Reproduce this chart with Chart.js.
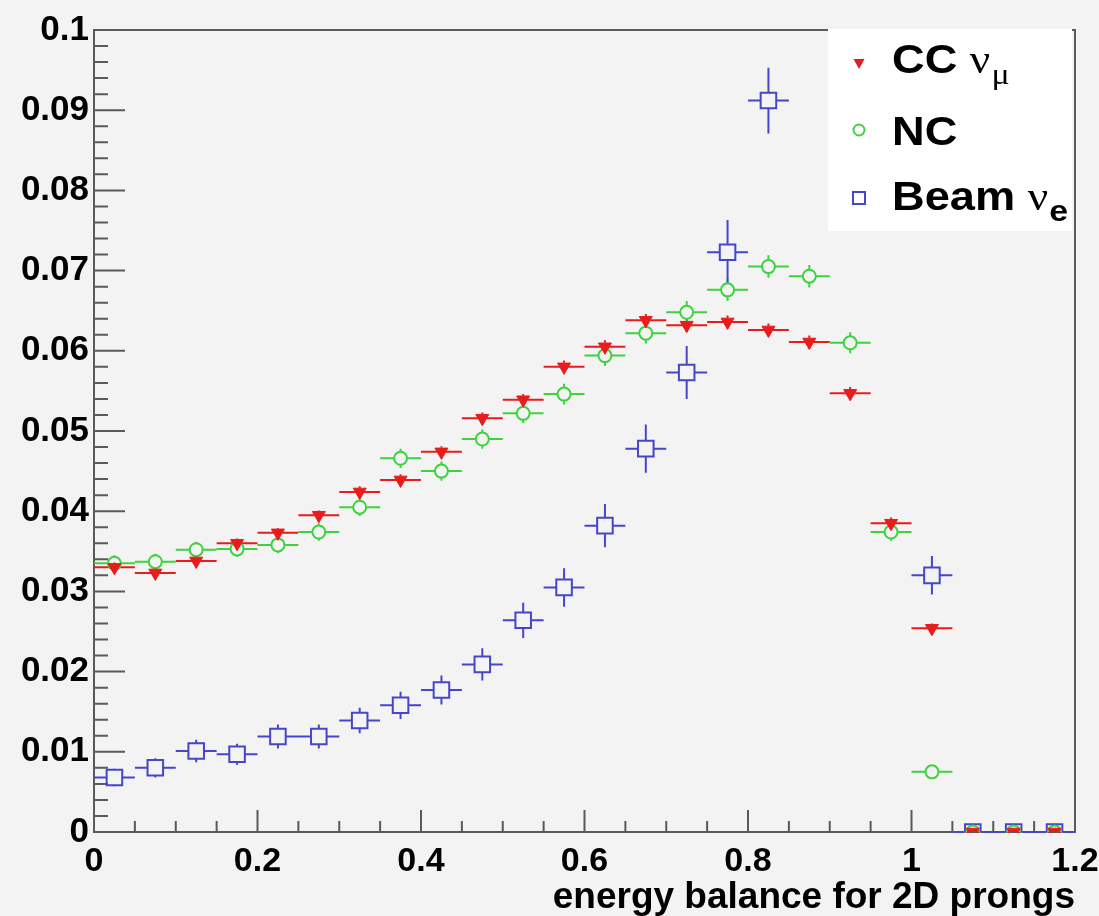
<!DOCTYPE html>
<html><head><meta charset="utf-8">
<script src="https://cdn.jsdelivr.net/npm/chart.js@4.4.0/dist/chart.umd.min.js"></script>
<style>html,body{margin:0;padding:0;background:#f3f3f3;overflow:hidden;}</style>
</head><body>
<canvas id="c" width="1099" height="916"></canvas>
<script>
// ---- data ----
const binCenters = [0.025,0.075,0.125,0.175,0.225,0.275,0.325,0.375,0.425,0.475,0.525,0.575,0.625,0.675,0.725,0.775,0.825,0.875,0.925,0.975,1.025,1.075,1.125,1.175];
const binHalfWidth = 0.025;
const ccNumu = [0.0330,0.0323,0.0338,0.0360,0.0373,0.0395,0.0424,0.0439,0.0474,0.0516,0.0539,0.0580,0.0605,0.0638,0.0632,0.0636,0.0626,0.0611,0.0547,0.0385,0.0254,0,0,0];
const ccErr  = [0.0006,0.0006,0.0006,0.0006,0.0006,0.0006,0.0007,0.0007,0.0007,0.0007,0.0007,0.0008,0.0008,0.0008,0.0008,0.0008,0.0008,0.0008,0.0008,0.0007,0.0006,0,0,0];
const ncVals = [0.0335,0.0337,0.0352,0.0353,0.0358,0.0374,0.0405,0.0466,0.0450,0.0490,0.0522,0.0546,0.0594,0.0622,0.0648,0.0676,0.0705,0.0693,0.0610,0.0374,0.0075,0,0,0];
const ncErr  = [0.0010,0.0010,0.0010,0.0010,0.0010,0.0011,0.0011,0.0012,0.0012,0.0012,0.0012,0.0013,0.0013,0.0013,0.0014,0.0014,0.0014,0.0014,0.0013,0.0011,0.0006,0,0,0];
const beamNue = [0.0068,0.0080,0.0101,0.0097,0.0119,0.0119,0.0139,0.0158,0.0177,0.0209,0.0264,0.0305,0.0382,0.0478,0.0573,0.0723,0.0912,null,null,null,0.0320,0,0,0];
const beamErr = [0.0011,0.0012,0.0014,0.0013,0.0015,0.0015,0.0016,0.0017,0.0018,0.0020,0.0022,0.0024,0.0027,0.0030,0.0033,0.0040,0.0041,null,null,null,0.0024,0,0,0];
const xTickValues = [0,0.2,0.4,0.6,0.8,1.0,1.2];
const xTickLabels = ['0','0.2','0.4','0.6','0.8','1','1.2'];
const yTickValues = [0,0.01,0.02,0.03,0.04,0.05,0.06,0.07,0.08,0.09,0.1];
const yTickLabels = ['0','0.01','0.02','0.03','0.04','0.05','0.06','0.07','0.08','0.09','0.1'];
const xTitle = 'energy balance for 2D prongs';
const legendEntries = [
  {main:'CC ', greek:'\u03BD', sub:'\u03BC', subGreek:true},
  {main:'NC', greek:'', sub:'', subGreek:false},
  {main:'Beam ', greek:'\u03BD', sub:'e', subGreek:false}
];

const RED='#e81c1c', GREEN='#3fd23f', BLUE='#4646c8', BG='#f3f3f3';
const SANS="'Liberation Sans', Arial, Helvetica, sans-serif";
const SERIF="'Liberation Serif', 'DejaVu Serif', serif";

function pts(vals){ return binCenters.map((x,i)=> vals[i]===null ? null : {x:x, y:vals[i]}).filter(p=>p); }
function errs(vals, e){ return binCenters.map((x,i)=> vals[i]===null ? null : e[i]).filter(v=>v!==null); }

const datasets = [
  {label:'CC', data:pts(ccNumu), errs:errs(ccNumu,ccErr), gap:4, pointStyle:'triangle', rotation:180, pointRadius:7.5, pointBackgroundColor:RED, pointBorderColor:RED, pointBorderWidth:1, color:RED, showLine:false, order:0},
  {label:'NC', data:pts(ncVals), errs:errs(ncVals,ncErr), gap:6.5, pointStyle:'circle', pointRadius:6.5, pointBackgroundColor:'rgba(0,0,0,0)', pointBorderColor:GREEN, pointBorderWidth:2, color:GREEN, showLine:false, order:1},
  {label:'Beam', data:pts(beamNue), errs:errs(beamNue,beamErr), gap:8, pointStyle:'rect', pointRadius:11, pointBackgroundColor:'rgba(0,0,0,0)', pointBorderColor:BLUE, pointBorderWidth:2, color:BLUE, showLine:false, order:2}
];

const bgPlugin = {
  id:'bg',
  beforeDraw(chart){ const c=chart.ctx; c.save(); c.fillStyle=BG; c.fillRect(0,0,chart.width,chart.height); c.restore(); }
};

const framePlugin = {
  id:'frame',
  beforeDatasetsDraw(chart){
    const c=chart.ctx, a=chart.chartArea, xs=chart.scales.x, ys=chart.scales.y;
    c.save();
    c.strokeStyle='#5a5a5a'; c.lineWidth=2;
    c.strokeRect(a.left, a.top, a.right-a.left, a.bottom-a.top);
    c.beginPath();
    for(let i=0;i<=50;i++){
      const py=ys.getPixelForValue(i*0.002);
      const len = (i%5===0)?31:14;
      c.moveTo(a.left, py); c.lineTo(a.left+len, py);
    }
    for(let i=0;i<=24;i++){
      const px=xs.getPixelForValue(i*0.05);
      const len = (i%4===0)?22:11;
      c.moveTo(px, a.bottom); c.lineTo(px, a.bottom-len);
    }
    c.stroke();
    c.restore();
  }
};

const errPlugin = {
  id:'errbars',
  beforeDatasetsDraw(chart){
    const c=chart.ctx, a=chart.chartArea, xs=chart.scales.x, ys=chart.scales.y;
    c.save();
    c.beginPath(); c.rect(a.left, a.top, a.right-a.left, a.bottom-a.top+2); c.clip();
    c.lineWidth=2;
    chart.data.datasets.forEach(ds=>{
      c.strokeStyle=ds.color;
      c.beginPath();
      ds.data.forEach((p,i)=>{
        const px=xs.getPixelForValue(p.x), py=ys.getPixelForValue(p.y);
        const xl=xs.getPixelForValue(p.x-binHalfWidth), xr=xs.getPixelForValue(p.x+binHalfWidth);
        const e=ds.errs[i]||0;
        const yt=ys.getPixelForValue(p.y+e), yb=ys.getPixelForValue(Math.max(0,p.y-e));
        const g=ds.gap;
        c.moveTo(xl,py); c.lineTo(px-g,py);
        c.moveTo(px+g,py); c.lineTo(xr,py);
        if(py-g>yt){ c.moveTo(px,yt); c.lineTo(px,py-g); }
        if(yb>py+g){ c.moveTo(px,py+g); c.lineTo(px,yb); }
      });
      c.stroke();
    });
    c.restore();
  }
};

const legendPlugin = {
  id:'rootLegend',
  afterDraw(chart){
    const c=chart.ctx;
    const rows=[{y:63,base:73},{y:130,base:145},{y:197,base:210}];
    c.save();
    c.fillStyle='#ffffff';
    c.fillRect(828, 29, 244, 202);
    // markers
    c.fillStyle=RED; c.beginPath(); c.moveTo(853.5,59); c.lineTo(864.5,59); c.lineTo(859,69); c.closePath(); c.fill();
    c.strokeStyle=GREEN; c.lineWidth=2; c.beginPath(); c.arc(859,130,5.5,0,Math.PI*2); c.stroke();
    c.strokeStyle=BLUE; c.lineWidth=2; c.strokeRect(853,192,12,12);
    // texts
    const sx=1.13;
    legendEntries.forEach((en,i)=>{
      const base=rows[i].base;
      c.save();
      c.translate(892, base);
      c.scale(sx,1);
      c.fillStyle='#000';
      c.textBaseline='alphabetic';
      c.font='bold 40px '+SANS;
      c.fillText(en.main,0,0);
      let x=c.measureText(en.main).width;
      if(en.greek){
        c.font='40px '+SERIF;
        c.fillText(en.greek,x,0);
        x+=c.measureText(en.greek).width+1;
      }
      if(en.sub){
        c.font= en.subGreek ? '30px '+SERIF : 'bold 30px '+SANS;
        c.fillText(en.sub,x,11);
      }
      c.restore();
    });
    c.restore();
  }
};

new Chart(document.getElementById('c'), {
  type:'scatter',
  data:{datasets:datasets},
  plugins:[bgPlugin, framePlugin, errPlugin, legendPlugin],
  options:{
    responsive:false, animation:false, devicePixelRatio:1,
    layout:{padding:{top:30,right:24,left:0,bottom:0}},
    plugins:{legend:{display:false}, tooltip:{enabled:false}},
    scales:{
      x:{
        type:'linear', min:0, max:1.2,
        afterBuildTicks:s=>{ s.ticks = xTickValues.map(v=>({value:v})); },
        afterFit:s=>{ s.height=84; s.paddingLeft=0; s.paddingRight=0; },
        grid:{display:false, drawTicks:false}, border:{display:false},
        ticks:{color:'#000', padding:9, maxRotation:0, autoSkip:false,
          font:{family:SANS, weight:'bold', size:34},
          callback:(v,i)=>xTickLabels[i]},
        title:{display:true, text:xTitle, align:'end', color:'#000',
          font:{family:SANS, weight:'bold', size:37}, padding:{top:0,bottom:-4}}
      },
      y:{
        type:'linear', min:0, max:0.1,
        afterBuildTicks:s=>{ s.ticks = yTickValues.map(v=>({value:v})); },
        afterFit:s=>{ s.width=94; s.paddingTop=0; s.paddingBottom=0; },
        grid:{display:false, drawTicks:false}, border:{display:false},
        ticks:{color:'#000', padding:5, autoSkip:false,
          font:{family:SANS, weight:'bold', size:35},
          callback:(v,i)=>yTickLabels[i]}
      }
    }
  }
});
</script>
</body></html>
